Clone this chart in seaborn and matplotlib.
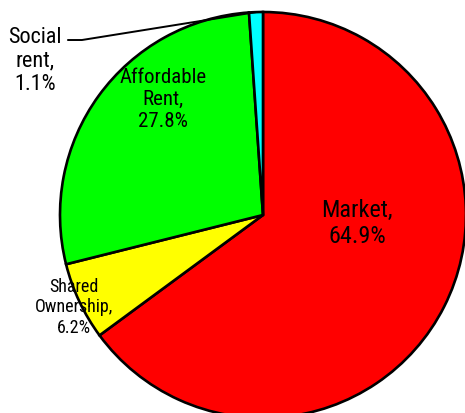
import numpy as np
import matplotlib
matplotlib.use("Agg")
import matplotlib.pyplot as plt
import seaborn as sns
from matplotlib import font_manager

# Tenure split of new homes
categories = ["Market", "Shared Ownership", "Affordable Rent", "Social rent"]
shares = [64.9, 6.2, 27.8, 1.1]
label_texts = ["Market,\n64.9%", "Shared\nOwnership,\n6.2%", "Affordable\nRent,\n27.8%", "Social\nrent,\n1.1%"]
colors = ["#FF0000", "#FFFF00", "#00FF00", "#00FFFF"]

sns.set_style("white")
installed = {f.name for f in font_manager.fontManager.ttflist}
preferred = ["Liberation Sans Narrow", "Roboto Condensed", "Archivo Narrow", "PT Sans Narrow", "Liberation Sans"]
family = [next(f for f in preferred if f in installed)]
plt.rcParams["font.family"] = family + ["DejaVu Sans"]

W, H = 465, 414
fig = plt.figure(figsize=(W / 100, H / 100), dpi=100)
ax = fig.add_axes([0, 0, 1, 1])

cx, cy, r = 263, H - 216, 203
wedges, _ = ax.pie(shares, colors=colors, startangle=90, counterclock=False,
                   center=(cx, cy), radius=r,
                   wedgeprops=dict(edgecolor="black", linewidth=1.9))
ax.set_xlim(0, W)
ax.set_ylim(0, H)
ax.set_aspect("equal")
ax.axis("off")

# label placement in radius units relative to the pie centre
offsets = [(0.463, -0.035), (-0.931, -0.45), (-0.493, 0.576), (-1.123, 0.764)]
sizes = [17.5, 13, 15, 16]
spacing = [1.16, 1.2, 1.2, 1.15]
for txt, (dx, dy), fs, ls in zip(label_texts, offsets, sizes, spacing):
    ax.text(cx + dx * r, cy + dy * r, txt, ha="center", va="center",
            fontsize=fs, linespacing=ls, color="black")

# leader line for the smallest slice
w = wedges[3]
mid = np.deg2rad((w.theta1 + w.theta2) / 2)
ex, ey = cx + r * np.cos(mid), cy + r * np.sin(mid)
ax.plot([cx - 0.961 * r, cx - 0.892 * r, ex], [cy + 0.862 * r, cy + 0.862 * r, ey],
        color="black", linewidth=1.4, clip_on=False)

fig.savefig("out.png", dpi=100)
